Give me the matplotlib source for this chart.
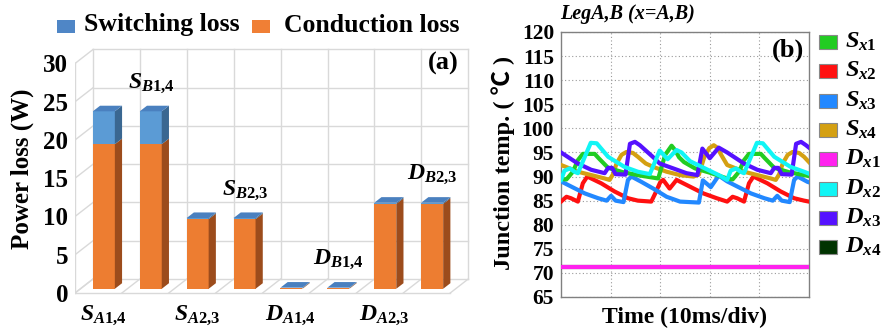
import matplotlib
matplotlib.use("Agg")
import matplotlib.pyplot as plt
from matplotlib.patches import Polygon, Rectangle

W, H = 882, 333
SERIF = ["Liberation Serif", "DejaVu Serif"]

plt.rcParams["font.family"] = SERIF
plt.rcParams["font.weight"] = "bold"
plt.rcParams["mathtext.fontset"] = "custom"
plt.rcParams["mathtext.it"] = "Liberation Serif:italic:bold"
plt.rcParams["mathtext.rm"] = "Liberation Serif:bold"
plt.rcParams["mathtext.bf"] = "Liberation Serif:bold"

# ---- (a) power loss -------------------------------------------------------
devices = [r"S_{A1{,}4}", r"S_{B1{,}4}", r"S_{A2{,}3}", r"S_{B2{,}3}",
           r"D_{A1{,}4}", r"D_{B1{,}4}", r"D_{A2{,}3}", r"D_{B2{,}3}"]
conduction = [18.9, 18.9, 9.1, 9.1, 0.08, 0.08, 11.1, 11.1]
switching = [4.3, 4.3, 0.15, 0.15, 0.07, 0.07, 0.15, 0.15]
loss_ticks = [0, 5, 10, 15, 20, 25, 30]

# ---- (b) junction temperature (time in ms, temp in degC) ------------------
t_sx1 = [0, 1.1, 2.4, 3.4, 4.4, 6.8, 7.6, 9.5, 12.5, 16.0, 19.6, 21.0, 22.3, 23.0,
         23.8, 24.8, 27.0, 30.0, 33.5, 34.6, 35.9, 36.9, 37.9, 40.3, 41.1, 43.0,
         46.0, 49.5, 50]
T_sx1 = [89.5, 89.4, 91.0, 93.4, 94.7, 94.7, 93.8, 91.8, 90.9, 90.2, 89.6, 94.5,
         96.4, 95.5, 94.0, 93.0, 91.7, 90.8, 89.6, 89.4, 91.0, 93.4, 94.7, 94.7,
         93.8, 91.8, 90.9, 90.2, 90.1]

t_sx2 = [0, 1.1, 2.0, 3.4, 4.4, 5.3, 8.1, 10.8, 13.5, 15.5, 18.2, 19.0, 20.0, 20.6,
         21.9, 23.3, 26.0, 28.7, 31.4, 33.5, 34.6, 35.5, 36.9, 37.9, 38.8, 41.6,
         44.3, 47.0, 49.0, 50]
T_sx2 = [84.8, 85.8, 85.5, 84.8, 88.6, 90.0, 88.6, 86.9, 85.5, 85.0, 84.8, 86.5,
         88.8, 89.3, 87.5, 89.3, 87.9, 86.5, 85.5, 84.8, 85.8, 85.5, 84.8, 88.6,
         90.0, 88.6, 86.9, 85.5, 85.0, 84.8]

t_sx3 = [0, 2.1, 4.8, 7.5, 9.2, 10.1, 11.0, 12.6, 13.5, 14.2, 16.2, 18.6, 21.3,
         24.0, 27.8, 28.6, 30.2, 31.8, 33.5, 35.6, 38.3, 41.0, 42.7, 43.6, 44.5,
         46.1, 47.0, 47.7, 49.7, 50]
T_sx3 = [89.0, 87.9, 86.5, 85.5, 85.0, 86.0, 85.0, 84.7, 89.3, 90.0, 88.9, 87.5,
         85.8, 84.8, 84.6, 89.2, 87.8, 90.2, 89.0, 87.9, 86.5, 85.5, 85.0, 86.0,
         85.0, 84.7, 89.3, 90.0, 88.9, 88.8]

t_sx4 = [0, 3.4, 6.1, 8.8, 9.8, 10.5, 11.2, 12.2, 13.2, 14.5, 15.5, 17.1, 18.6,
         21.3, 24.0, 26.7, 27.8, 28.9, 29.9, 30.8, 31.5, 32.3, 33.5, 36.9, 39.6,
         42.3, 43.3, 44.0, 44.7, 45.7, 46.7, 48.0, 49.0, 50]
T_sx4 = [92.4, 91.0, 90.3, 89.6, 89.3, 90.5, 92.7, 94.5, 95.1, 94.9, 94.1, 92.7,
         92.0, 91.0, 90.3, 90.0, 90.4, 94.1, 95.9, 96.5, 96.0, 94.5, 92.4, 91.0,
         90.3, 89.6, 89.3, 90.5, 92.7, 94.5, 95.1, 94.9, 94.1, 93.0]

t_dx1 = [0, 50]
T_dx1 = [71.2, 71.2]

t_dx2 = [0, 0.7, 1.8, 2.7, 3.4, 6.0, 7.2, 9.5, 12.8, 15.5, 17.9, 19.9, 21.5, 23.3,
         24.3, 26.0, 29.0, 32.0, 33.5, 34.2, 35.3, 36.2, 36.9, 39.5, 40.7, 43.0,
         46.3, 49.0, 50]
T_dx2 = [89.3, 91.2, 91.7, 91.0, 90.7, 97.0, 96.9, 94.1, 92.0, 91.0, 90.5, 95.4,
         93.6, 95.5, 95.0, 93.2, 91.7, 90.2, 89.3, 91.2, 91.7, 91.0, 90.7, 97.0,
         96.9, 94.1, 92.0, 91.0, 90.6]

t_dx3 = [0, 3.4, 6.1, 8.8, 9.5, 10.3, 11.0, 13.0, 13.9, 14.9, 15.9, 18.6, 19.9,
         22.6, 25.3, 27.5, 28.5, 30.0, 31.8, 33.5, 36.9, 39.6, 42.3, 43.0, 43.8,
         44.5, 46.5, 47.4, 48.4, 49.4, 50]
T_dx3 = [95.0, 92.7, 91.4, 90.7, 91.8, 91.8, 90.5, 90.4, 96.8, 97.2, 96.5, 94.0,
         92.7, 91.7, 90.7, 90.3, 95.8, 93.8, 96.0, 95.0, 92.7, 91.4, 90.7, 91.8,
         91.8, 90.5, 90.4, 96.8, 97.2, 96.5, 96.0]

t_dx4 = [0, 50]
T_dx4 = [71.2, 71.2]

temp_ticks = list(range(65, 121, 5))
time_grid = [10, 20, 30, 40]

ORANGE, ORANGE_SIDE = "#ed7d31", "#9c4c1c"
BLUE, BLUE_SIDE, BLUE_TOP = "#5b9bd5", "#3a6791", "#4a80bf"
GRID = "#d9d9d9"


def fx(px):
    return px / W


def fy(py):
    return 1 - py / H


fig = plt.figure(figsize=(W / 100, H / 100), dpi=100)
fig.patch.set_facecolor("white")

# ===================== left: pseudo-3D stacked bars =======================
ax = fig.add_axes([fx(75), fy(300), fx(405), 260 / H])
ax.set_xlim(0, 8.635)
ax.set_ylim(-0.915, 33.07)
for s in ax.spines.values():
    s.set_visible(False)
ax.set_xticks([])
ax.set_yticks(loss_ticks)
ax.set_yticklabels([str(v) for v in loss_ticks], fontsize=18, fontweight="bold")
ax.tick_params(axis="y", length=0, pad=5)

DX, DY = 0.384, 1.83          # wall depth
n = len(devices)
top = max(loss_ticks)
# back wall + left wall + floor
for v in loss_ticks:
    ax.plot([DX, n + DX], [v + DY, v + DY], color=GRID, lw=1, zorder=1)
    ax.plot([0, DX], [v, v + DY], color=GRID, lw=1, zorder=1)
for i in range(n + 1):
    ax.plot([i + DX, i + DX], [DY, top + DY], color=GRID, lw=1, zorder=1)
    ax.plot([i, i + DX], [0, DY], color=GRID, lw=1, zorder=1)
ax.plot([0, 0], [0, top], color=GRID, lw=1, zorder=1)
ax.plot([0, n], [0, 0], color=GRID, lw=1, zorder=1)

BW = 0.469                    # bar width
FX, FY = 0.115, 0.55          # bar front offset
BDX, BDY = 0.154, 0.73        # bar depth


def box(x0, y0, y1, front, side, topc):
    ax.bar(x0 + BW / 2, y1 - y0, width=BW, bottom=y0, color=front,
           linewidth=0, zorder=3)
    ax.add_patch(Polygon([(x0 + BW, y0), (x0 + BW + BDX, y0 + BDY),
                          (x0 + BW + BDX, y1 + BDY), (x0 + BW, y1)],
                         closed=True, facecolor=side, edgecolor="none", zorder=3))
    if topc:
        ax.add_patch(Polygon([(x0, y1), (x0 + BW, y1), (x0 + BW + BDX, y1 + BDY),
                              (x0 + BDX, y1 + BDY)],
                             closed=True, facecolor=topc, edgecolor="none", zorder=4))


for i, (c, s) in enumerate(zip(conduction, switching)):
    x0 = i + 0.5 - BW / 2 + FX
    box(x0, FY, FY + c, ORANGE, ORANGE_SIDE, None)
    box(x0, FY + c, FY + c + s, BLUE, BLUE_SIDE, BLUE_TOP)

for i, name in enumerate(devices):
    lab = r"$\mathit{" + name + "}$"
    if i % 2 == 0:
        ax.text(i + 0.6, -2.9, lab, ha="center", va="center", fontsize=17,
                clip_on=False)
    else:
        tot = conduction[i] + switching[i]
        ax.text(i + 0.62, tot + 4.2, lab, ha="center", va="center", fontsize=17,
                clip_on=False)

ax.text(7.85, 30.0, "(a)", ha="center", va="center", fontsize=19, fontweight="bold")
fig.text(fx(22), fy(169), "Power loss (W)", rotation=90, ha="center",
         va="center", fontsize=18, fontweight="bold")

# legend for (a)
fig.add_artist(Rectangle((fx(57), fy(33)), fx(18), 13 / H, facecolor="#4f86c6",
                         edgecolor="none", transform=fig.transFigure))
fig.text(fx(84), fy(25), "Switching loss", ha="left", va="center", fontsize=18.5,
         fontweight="bold")
fig.add_artist(Rectangle((fx(252), fy(33)), fx(18), 13 / H, facecolor="#f07f35",
                         edgecolor="none", transform=fig.transFigure))
fig.text(fx(284), fy(25), "Conduction loss", ha="left", va="center",
         fontsize=18.5, fontweight="bold")

# ===================== right: junction temperature ========================
bx = fig.add_axes([fx(561), fy(297), fx(248), 265 / H])
series = [
    (t_dx4, T_dx4, "#003300", r"D_{x4}"),
    (t_dx1, T_dx1, "#ff22ee", r"D_{x1}"),
    (t_sx2, T_sx2, "#ff1010", r"S_{x2}"),
    (t_sx3, T_sx3, "#2288ff", r"S_{x3}"),
    (t_sx4, T_sx4, "#d4a012", r"S_{x4}"),
    (t_sx1, T_sx1, "#22cc22", r"S_{x1}"),
    (t_dx3, T_dx3, "#5511ff", r"D_{x3}"),
    (t_dx2, T_dx2, "#11f5f5", r"D_{x2}"),
]
for t, T, col, _ in series:
    bx.plot(t, T, color=col, lw=3, zorder=3)

bx.set_xlim(0, 50)
bx.set_ylim(65, 120)
bx.set_yticks(temp_ticks)
bx.set_yticklabels([str(v) for v in temp_ticks], fontsize=15.5, fontweight="bold")
bx.set_xticks(time_grid)
bx.set_xticklabels([])
bx.tick_params(axis="both", length=0, pad=5)
bx.grid(True, color="#999999", linestyle=(0, (1, 2.2)), linewidth=0.8, zorder=0)
for s in bx.spines.values():
    s.set_edgecolor("#808080")
    s.set_linewidth(1)
bx.set_xlabel("Time (10ms/div)", fontsize=17, fontweight="bold", labelpad=2)
bx.text(0.915, 0.93, "(b)", transform=bx.transAxes, ha="center", va="center",
        fontsize=19, fontweight="bold")
fig.text(fx(560), fy(14), "LegA,B (x=A,B)", ha="left", va="center",
         fontsize=14.5, fontstyle="italic", fontweight="bold")
fig.text(fx(503), fy(163), "Junction temp. ( \u2103 )", rotation=90, ha="center",
         va="center", fontsize=17.5, fontweight="bold",
         family=["Liberation Serif", "Noto Sans CJK SC"])

# legend for (b)
legend_order = ["S_{x1}", "S_{x2}", "S_{x3}", "S_{x4}",
                "D_{x1}", "D_{x2}", "D_{x3}", "D_{x4}"]
colors = {lab: col for _, _, col, lab in series}
for k, lab in enumerate(legend_order):
    yc = 42 + 29.3 * k
    fig.add_artist(Rectangle((fx(819), fy(yc + 7)), fx(18), 14 / H,
                             facecolor=colors[lab], edgecolor="#888888", lw=0.8,
                             transform=fig.transFigure))
    fig.text(fx(845), fy(yc), r"$\mathit{" + lab + "}$", ha="left", va="center",
             fontsize=17.5)

fig.savefig("out.png", dpi=100, facecolor="white")
